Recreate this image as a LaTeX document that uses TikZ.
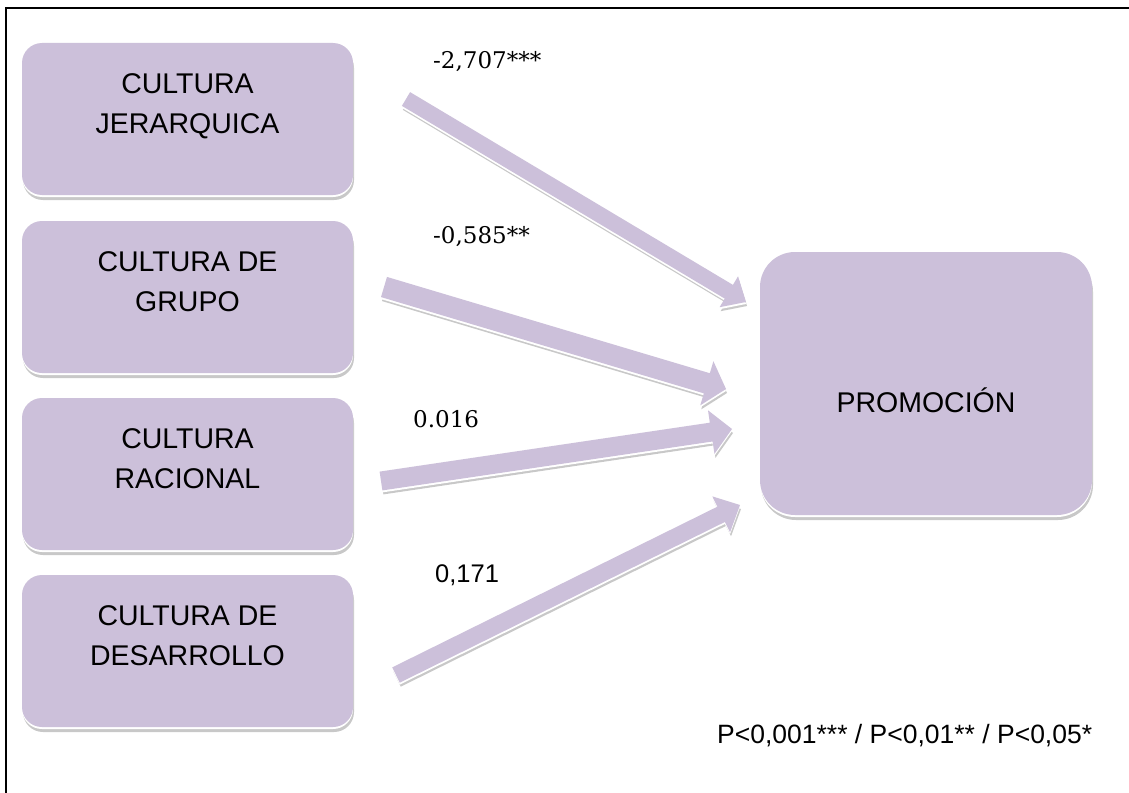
\documentclass[tikz,border=0pt]{standalone}
\usepackage{fontspec}
\setmainfont{Liberation Sans}
\newfontfamily\labelserif{DejaVu Serif}
\usetikzlibrary{calc,shadows}

\definecolor{boxpurple}{RGB}{204,192,218}
\definecolor{shadowgray}{RGB}{200,200,200}

\tikzset{
  cultbox/.style={rectangle, rounded corners=20pt, minimum width=331pt,
    minimum height=152pt, inner sep=0pt, fill=boxpurple,
    general shadow={shadow xshift=1pt, shadow yshift=-5pt, fill=shadowgray},
    general shadow={shadow yshift=-2pt, fill=white}},
  promobox/.style={cultbox, rounded corners=35pt, minimum width=332pt,
    minimum height=263pt, text height=57pt, text depth=0pt,
    font=\fontsize{28.5}{34}\selectfont},
  boxtext/.style={font=\fontsize{28.5}{40}\selectfont, align=center,
    anchor=north, inner sep=0pt},
  numserif/.style={font=\labelserif\fontsize{23}{28}\selectfont,
    inner sep=0pt, anchor=base west},
  numsans/.style={font=\fontsize{25.5}{30}\selectfont,
    inner sep=0pt, anchor=base west},
  legendtext/.style={font=\fontsize{26.5}{32}\selectfont,
    inner sep=0pt, anchor=base west},
  arrowshade/.style={fill=shadowgray, transform canvas={xshift=1pt, yshift=-4pt}},
  arrowgap/.style={fill=white, transform canvas={yshift=-2pt}},
  arrowbody/.style={fill=boxpurple}
}

% block arrow outline: tail, tip, body width, head width, head base, style
\newcommand\arrowpoly[6]{%
  \fill[#6] ($(#1)!#3/2!90:(#2)$) -- ($(#5)!#3/2!90:(#2)$)
    -- ($(#5)!#4/2!90:(#2)$) -- (#2) -- ($(#5)!#4/2!-90:(#2)$)
    -- ($(#5)!#3/2!-90:(#2)$) -- ($(#1)!#3/2!-90:(#2)$) -- cycle;}

% block arrow with its shadow: tail, tip, body width, head width, head length
\newcommand\fatarrow[5]{%
  \coordinate (#1-base) at ($(#2)!#5!(#1)$);
  \arrowpoly{#1}{#2}{#3}{#4}{#1-base}{arrowshade}
  \arrowpoly{#1}{#2}{#3}{#4}{#1-base}{arrowgap}
  \arrowpoly{#1}{#2}{#3}{#4}{#1-base}{arrowbody}}

\begin{document}
\begin{tikzpicture}[x=1pt, y=-1pt]
  \useasboundingbox (0,0) rectangle (1129,792);
  \clip (0,0) rectangle (1129,792);
  \fill[white] (0,0) rectangle (1129,792);

  % page frame
  \draw[line width=2pt] (5.5,8.5) rectangle (1140,800);

  % culture boxes
  \node[cultbox] (j) at (187.5,119) {};
  \node[cultbox] (g) at (187.5,297) {};
  \node[cultbox] (r) at (187.5,474) {};
  \node[cultbox] (d) at (187.5,651) {};

  \node[boxtext] (j-text) at ($(j.north)+(0,31)$) {CULTURA\\JERARQUICA};
  \node[boxtext] (g-text) at ($(g.north)+(0,31)$) {CULTURA DE\\GRUPO};
  \node[boxtext] (r-text) at ($(r.north)+(0,31)$) {CULTURA\\RACIONAL};
  \node[boxtext] (d-text) at ($(d.north)+(0,31)$) {CULTURA DE\\DESARROLLO};

  % outcome box
  \node[promobox] (p) at (926,383.5) {PROMOCIÓN};

  % arrow ends
  \coordinate (j-tail) at (406,99);
  \coordinate (j-tip)  at (746,302);
  \coordinate (g-tail) at (384,287);
  \coordinate (g-tip)  at (726,389);
  \coordinate (r-tail) at (381,481);
  \coordinate (r-tip)  at (732,429);
  \coordinate (d-tail) at (396,675);
  \coordinate (d-tip)  at (740,505);

  \fatarrow{j-tail}{j-tip}{16pt}{36pt}{20pt}
  \fatarrow{g-tail}{g-tip}{21pt}{46pt}{20pt}
  \fatarrow{r-tail}{r-tip}{19pt}{44pt}{21pt}
  \fatarrow{d-tail}{d-tip}{17pt}{40pt}{21pt}

  % coefficients
  \node[numserif] (c-j) at (433,69)  {-2,707***};
  \node[numserif] (c-g) at (433,243) {-0,585**};
  \node[numserif] (c-r) at (413,427) {0.016};
  \node[numsans]  (c-d) at (435,582) {0,171};

  % significance key
  \node[legendtext] (key) at (717,743) {P<0,001*** / P<0,01** / P<0,05*};
\end{tikzpicture}
\end{document}
